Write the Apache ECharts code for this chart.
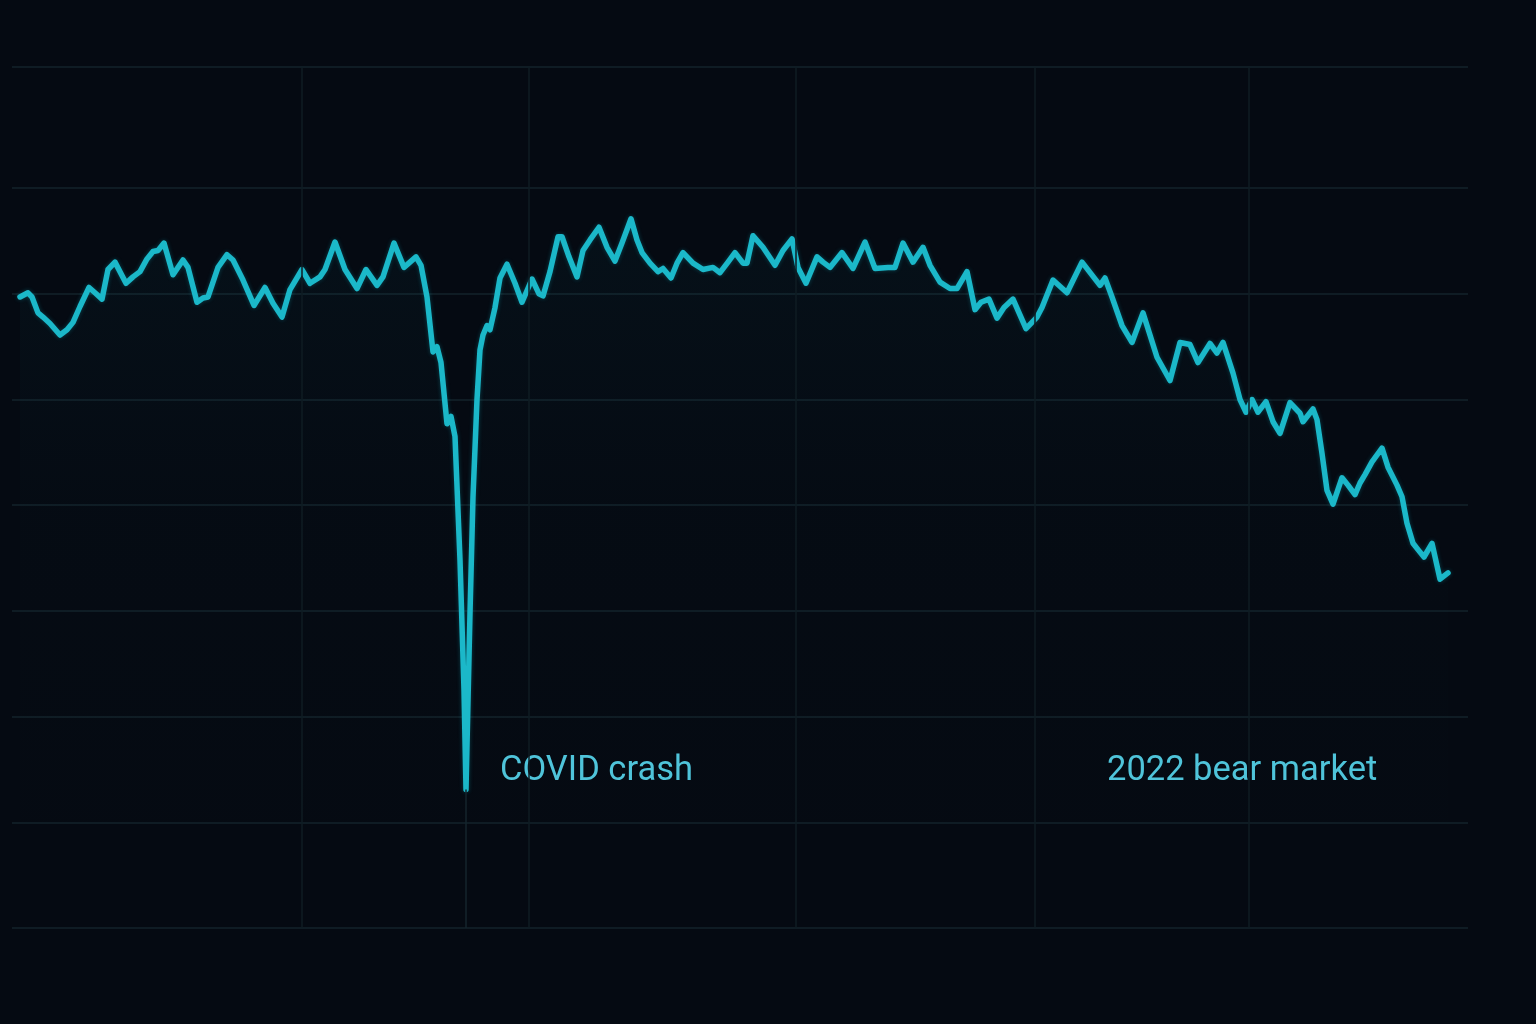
<!DOCTYPE html>
<html><head><meta charset="utf-8">
<style>html,body{margin:0;padding:0;background:#050a12;}#c{width:1536px;height:1024px;}</style>
<script src="https://cdn.jsdelivr.net/npm/echarts@6/dist/echarts.min.js"></script>
</head><body><div id="c"></div>
<script>
// x: trading-day index, y: index level
const day = [8,16,20,26,31,38,48,55,61,68,77,83,90,96,103,114,121,128,135,141,146,152,161,171,176,185,191,196,206,215,221,231,242,253,261,270,278,290,298,308,313,323,333,345,354,365,371,382,392,404,409,415,421,425,429,435,439,443,448,452,454,458,461,465,468,471,475,478,483,488,495,503,510,520,527,531,538,546,550,557,565,571,578,587,595,603,610,619,625,630,638,646,651,659,665,671,681,691,701,708,716,723,731,735,741,751,763,771,780,786,794,805,811,818,830,841,853,863,876,883,891,901,911,918,928,938,945,955,963,969,977,985,992,1001,1014,1025,1030,1041,1055,1070,1088,1093,1100,1110,1120,1131,1145,1158,1168,1178,1186,1198,1205,1211,1221,1228,1234,1240,1246,1254,1261,1268,1278,1288,1291,1301,1305,1310,1315,1321,1330,1336,1343,1348,1353,1360,1370,1376,1385,1390,1395,1401,1406,1412,1420,1428,1436];
const level = [59.7,60.1,59.7,58.2,57.8,57.2,56.1,56.6,57.3,58.8,60.6,60.1,59.5,62.3,63.0,61.0,61.6,62.1,63.3,64.0,64.1,64.8,61.8,63.2,62.5,59.2,59.6,59.7,62.5,63.7,63.2,61.3,58.9,60.6,59.1,57.8,60.4,62.3,61.0,61.6,62.3,64.9,62.3,60.5,62.3,60.8,61.6,64.8,62.5,63.5,62.7,59.7,54.5,55.0,53.5,47.7,48.4,46.5,34.8,22.5,13.1,29.8,40.8,50.0,54.7,56.1,57.0,56.6,58.7,61.5,62.8,61.0,59.2,61.4,60.0,59.8,62.1,65.4,65.4,63.5,61.6,64.1,65.1,66.3,64.4,63.1,64.8,67.1,65.1,63.9,62.9,62.1,62.4,61.5,62.9,63.9,62.9,62.3,62.5,62.0,63.0,63.9,62.9,62.9,65.5,64.4,62.7,64.1,65.2,62.5,61.0,63.5,63.0,62.5,63.9,62.4,64.9,62.4,62.5,62.5,64.8,63.0,64.4,62.7,61.1,60.5,60.5,62.1,58.5,59.2,59.5,57.7,58.7,59.5,56.7,57.8,58.7,61.3,60.1,63.0,60.8,61.5,59.7,57.0,55.4,58.2,54.0,51.8,55.4,55.2,53.5,55.3,54.4,55.4,52.5,50.0,48.8,50.0,48.8,49.8,47.9,46.8,49.7,48.7,47.9,49.1,48.1,44.9,41.4,40.1,42.6,41.9,41.0,42.1,42.9,44.1,45.4,43.6,41.9,40.8,38.3,36.4,35.8,35.1,36.4,33.0,33.6];
const dayMarks = [290,517,784,1023,1237];
const crashDay = 454, crashLevel = 13.1;
const annoText = ['COVID crash','2022 bear market'];
const annoDay = [488,1095];
const annoLevel = [14.8,14.8];
const yMin = 0, yMax = 81.46, yStep = 10, xMin = 0, xMax = 1456;

const chart = echarts.init(document.getElementById('c'), null, {renderer:'canvas'});
const grid = '#13232b';
const lineColors = [];
for (let v = yMin; v <= yMax; v += yStep) lineColors.push(v === 80 ? 'rgba(0,0,0,0)' : grid);
lineColors.push(grid);

chart.setOption({
  backgroundColor:'#050a12',
  animation:false,
  grid:{left:12,right:68,top:67,bottom:96},
  xAxis:{type:'value',min:xMin,max:xMax,axisLine:{show:false},axisTick:{show:false},axisLabel:{show:false},splitLine:{show:false}},
  yAxis:{type:'value',min:yMin,max:yMax,interval:yStep,axisLine:{show:false},axisTick:{show:false},axisLabel:{show:false},
    splitLine:{show:true,lineStyle:{color:lineColors,width:1.5}}},
  series:[{
    type:'line',
    data: day.map((d,i)=>[d,level[i]]),
    showSymbol:false, symbol:'none', smooth:false,
    lineStyle:{color:'#1bb8c9',width:5.5,join:'round',cap:'round',shadowColor:'rgba(20,190,210,0.3)',shadowBlur:4},
    areaStyle:{color:new echarts.graphic.LinearGradient(0,0,0,1,[
      {offset:0,color:'rgba(25,170,190,0.06)'},{offset:0.4,color:'rgba(25,170,190,0.012)'},{offset:1,color:'rgba(25,170,190,0)'}])},
    markLine:{silent:true,symbol:['none','none'],label:{show:false},
      lineStyle:{color:'#0f1c23',width:1.5,type:'solid'},
      data: dayMarks.map(d=>({xAxis:d})).concat([[{coord:[crashDay,0],lineStyle:{color:'#15252c',width:1.5}},{coord:[crashDay,crashLevel]}]])}
  }]
});

const g = annoText.map((t,i)=>{
  const p = chart.convertToPixel({gridIndex:0},[annoDay[i],annoLevel[i]]);
  return {type:'text',x:p[0],y:p[1],silent:true,
    style:{text:t,fill:'#4fc4da',font:'34.5px Roboto',align:'left',verticalAlign:'middle'}};
});
chart.setOption({graphic:g});
</script></body></html>
